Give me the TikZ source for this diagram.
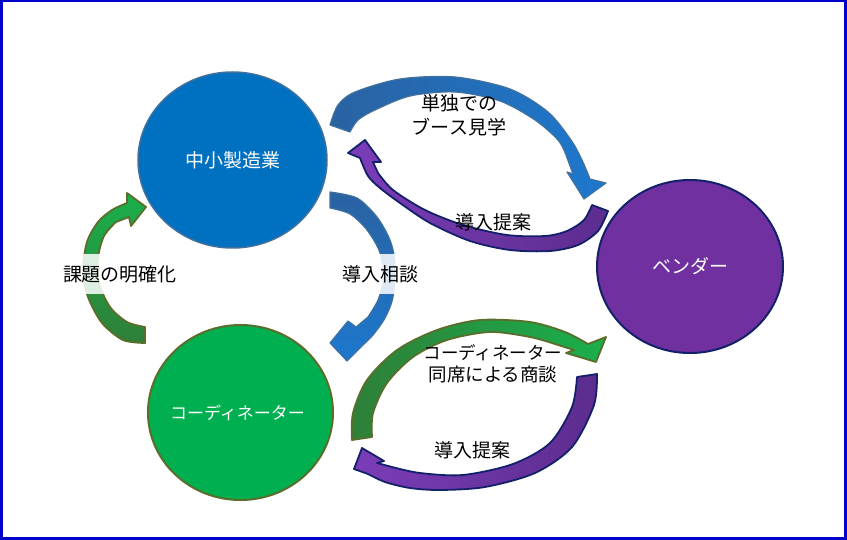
\documentclass[tikz,border=0pt]{standalone}
\usepackage{fontspec}
\setmainfont{Noto Sans CJK JP}
\usetikzlibrary{shapes.geometric}
\definecolor{cblue}{HTML}{0070C0}
\definecolor{cblueline}{HTML}{41719C}
\definecolor{cpurple}{HTML}{7030A0}
\definecolor{cnavy}{HTML}{13206A}
\definecolor{cgreen}{HTML}{00B050}
\definecolor{colive}{HTML}{5A6E2C}
\definecolor{frameblue}{HTML}{0000CC}
\definecolor{bluedark}{HTML}{2A62A2}
\definecolor{bluelight}{HTML}{1C78CE}
\definecolor{purplelight}{HTML}{7B3DB8}
\definecolor{purpledark}{HTML}{5C2C8E}
\definecolor{greenlight}{HTML}{1AB04C}
\definecolor{greendark}{HTML}{2E7F38}
\begin{document}
\begin{tikzpicture}[x=1pt,y=-1pt,
  bubble/.style={ellipse, inner sep=0pt},
  bubbletext/.style={text=white, font=\fontsize{19}{24}\selectfont},
  lbl/.style={align=center, text=black, font=\fontsize{19}{24}\selectfont, inner sep=2pt},
  lblbox/.style={lbl, fill=white, fill opacity=0.85, text opacity=1, minimum height=40pt},
  bluearrow/.style={draw=cblueline, line width=1.2pt, line join=round},
  purplearrow/.style={draw=cnavy, line width=1.8pt, line join=round},
  greenarrow/.style={draw=colive, line width=1.8pt, line join=round}]
\useasboundingbox (0,0) rectangle (847,540);
\fill[white] (0,0) rectangle (847,540);
\draw[frameblue, line width=2.5pt] (1.25,1.25) rectangle (845.5,538.5);

% circles
\node[bubble, fill=cblue, draw=cblueline, line width=1.5pt, minimum width=189pt, minimum height=176pt,
  label={[bubbletext]center:中小製造業}] (maker) at (232.5,160) {};
\node[bubble, fill=cpurple, draw=cnavy, line width=2pt, minimum width=186pt, minimum height=173pt,
  label={[bubbletext]center:ベンダー}] (vendor) at (690,266.5) {};
\node[bubble, fill=cgreen, draw=colive, line width=2pt, minimum width=185pt, minimum height=175pt,
  label={[bubbletext, font=\fontsize{17}{22}\selectfont, xshift=-3pt]center:コーディネーター}] (coord) at (240.5,412.5) {};

% arrow 1: blue, maker -> vendor (top)
\path[bluearrow, left color=bluedark, right color=bluelight]
  plot[smooth] coordinates {(330,125) (338,105) (355,92) (400,79) (455,77) (510,89) (548,112) (571,140) (582,160) (590,179)}
  -- (606,183) -- (584,199) -- (567,172) -- (573,174)
  -- plot[smooth] coordinates {(566,155) (558,140) (535,120) (500,101) (455,92) (410,96) (375,110) (358,120) (350,132)}
  -- cycle;

% arrow 2: purple, vendor -> maker
\path[purplearrow, left color=purplelight, right color=purpledark]
  plot[smooth] coordinates {(608,211) (598,231) (578,245) (550,251) (510,250) (470,241) (430,223) (400,203) (380,188) (368,176) (360,158)}
  -- (348,153) -- (365,140) -- (381,162) -- (373,162)
  -- plot[smooth] coordinates {(378,173) (393,190) (425,210) (463,225) (507,235) (545,236) (567,231) (584,220) (592,205)}
  -- cycle;

% arrow 3: blue, maker -> coordinator
\path[bluearrow, top color=bluedark, bottom color=bluelight]
  plot[smooth] coordinates {(330,192) (357,198) (377,217) (390,240) (395,263) (393,297) (385,318) (373,335) (363,345)}
  -- (347,361) -- (330,343) -- (348,321) -- (356,327)
  -- plot[smooth] coordinates {(368,317) (378,300) (383,280) (380,253) (367,230) (350,214) (330,208)}
  -- cycle;

% arrow 4: green, coordinator -> maker
\path[greenarrow, top color=greenlight, bottom color=greendark]
  plot[smooth] coordinates {(145,343) (123,340) (102,323) (88,297) (83,270) (87,242) (98,222) (112,210) (127,203)}
  -- (127,193) -- (146,207) -- (131,226) -- (129,217)
  -- plot[smooth] coordinates {(116,222) (104,236) (98,258) (99,283) (110,307) (127,322) (145,327)}
  -- cycle;

% arrow 5: green, coordinator -> vendor
\path[greenarrow, left color=greendark, right color=greenlight]
  plot[smooth] coordinates {(352,440) (353,413) (367,380) (397,350) (437,330) (480,320) (530,322) (565,332) (588,344)}
  -- (606,337) -- (596,362) -- (566,353) -- (574,350)
  -- plot[smooth] coordinates {(555,344) (530,337) (490,332) (447,340) (413,357) (387,383) (373,413) (372,437)}
  -- cycle;

% arrow 6: purple, vendor -> coordinator
\path[purplearrow, left color=purplelight, right color=purpledark]
  plot[smooth] coordinates {(597,374) (594,405) (572,447) (535,473) (485,487) (440,490) (410,488) (385,482) (368,474)}
  -- (354,469) -- (362,448) -- (384,461) -- (377,463)
  -- plot[smooth] coordinates {(392,467) (420,473) (463,475) (513,464) (550,443) (572,407) (577,377)}
  -- cycle;

% labels
\node[lbl] (l1) at (459,115) {単独での\\ブース見学};
\node[lbl] (l2) at (493,222) {導入提案};
\node[lblbox] (l3) at (380,274) {導入相談};
\node[lblbox] (l4) at (120,274) {課題の明確化};
\node[lbl, font=\fontsize{18.5}{22}\selectfont] (l5) at (493,364) {{\fontsize{17.5}{22}\selectfont コーディネーター}\\同席による商談};
\node[lbl] (l6) at (472,450) {導入提案};
\end{tikzpicture}
\end{document}
